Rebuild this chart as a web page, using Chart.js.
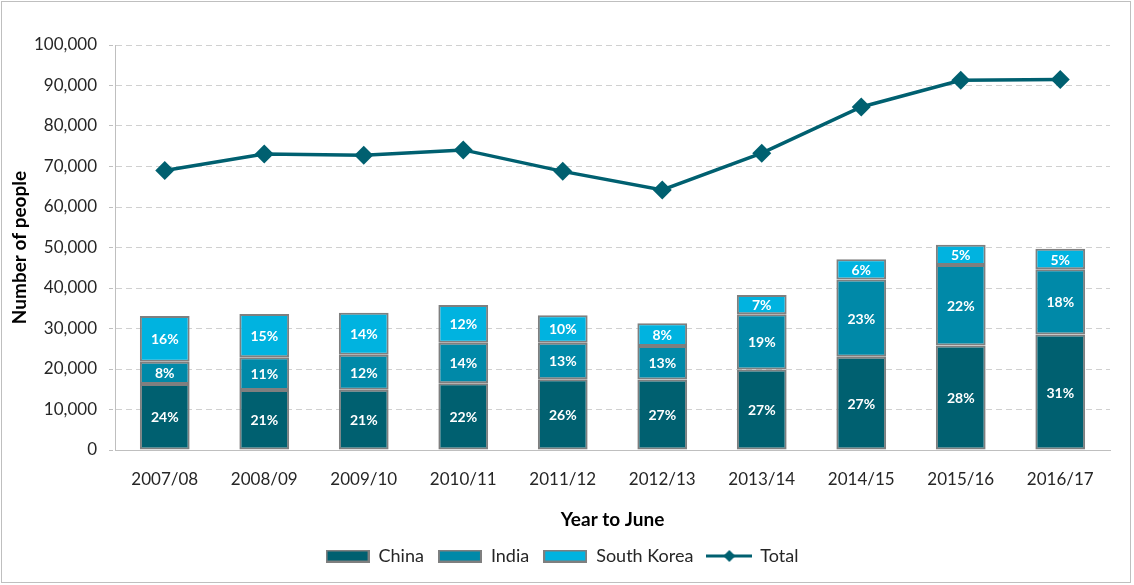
<!DOCTYPE html>
<html>
<head>
<meta charset="utf-8">
<script src="https://cdn.jsdelivr.net/npm/chart.js@4.4.1/dist/chart.umd.min.js"></script>
<style>
  html, body { margin: 0; padding: 0; background: #ffffff; }
  canvas { display: block; }
</style>
</head>
<body>
<canvas id="c" width="1134" height="585"></canvas>
<script>
const categories = ['2007/08','2008/09','2009/10','2010/11','2011/12','2012/13','2013/14','2014/15','2015/16','2016/17'];
const china      = [16300, 14800, 14900, 16500, 17500, 17400, 19900, 23000, 25800, 28500];
const india      = [5500, 8100, 8600, 10000, 9000, 8300, 13600, 19100, 19900, 16100];
const southKorea = [11300, 10700, 10400, 9300, 6800, 5600, 4800, 5000, 5000, 5100];
const total      = [69000, 73100, 72800, 74100, 68800, 64200, 73300, 84700, 91300, 91500];
const chinaPct   = ['24%','21%','21%','22%','26%','27%','27%','27%','28%','31%'];
const indiaPct   = ['8%','11%','12%','14%','13%','13%','19%','23%','22%','18%'];
const koreaPct   = ['16%','15%','14%','12%','10%','8%','7%','6%','5%','5%'];
const yTicks     = [0,10000,20000,30000,40000,50000,60000,70000,80000,90000,100000];

const C_CHINA = '#006070', C_INDIA = '#0089A8', C_KOREA = '#00B3E0', C_TOTAL = '#006070';
const FONT = 'Lato, "Open Sans", sans-serif';

function boxImg(color) {
  const cv = document.createElement('canvas');
  cv.width = 44; cv.height = 13;
  const x = cv.getContext('2d');
  x.fillStyle = '#7f7f7f'; x.fillRect(0, 0, 44, 13);
  x.fillStyle = color; x.fillRect(2, 2, 40, 9);
  return cv;
}
function lineImg(color) {
  const cv = document.createElement('canvas');
  cv.width = 46; cv.height = 14;
  const x = cv.getContext('2d');
  x.strokeStyle = color; x.lineWidth = 3;
  x.beginPath(); x.moveTo(0, 7); x.lineTo(46, 7); x.stroke();
  x.fillStyle = color;
  x.beginPath(); x.moveTo(23, 1); x.lineTo(29, 7); x.lineTo(23, 13); x.lineTo(17, 7); x.closePath(); x.fill();
  return cv;
}

const pctLabels = [chinaPct, indiaPct, koreaPct];

const labelPlugin = {
  id: 'pctLabels',
  afterDatasetsDraw(chart) {
    const ctx = chart.ctx;
    ctx.save();
    ctx.font = 'bold 14px ' + FONT;
    ctx.fillStyle = '#ffffff';
    ctx.textAlign = 'center';
    ctx.textBaseline = 'middle';
    for (let d = 0; d < 3; d++) {
      const meta = chart.getDatasetMeta(d);
      meta.data.forEach((bar, i) => {
        const p = bar.getProps(['x','y','base'], true);
        ctx.fillText(pctLabels[d][i], p.x, (p.y + p.base) / 2 + 1);
      });
    }
    ctx.restore();
  },
  afterLayout(chart) {
    if (chart.legend) { chart.legend.left += 7; chart.legend.right += 7; }
  },
  beforeDraw(chart) {
    const ctx = chart.ctx;
    ctx.save();
    ctx.fillStyle = '#ffffff';
    ctx.fillRect(0, 0, chart.width, chart.height);
    ctx.strokeStyle = '#bfbfbf';
    ctx.lineWidth = 1;
    ctx.strokeRect(1.5, 1.5, 1129, 581);
    ctx.restore();
  }
};

const barCommon = { borderColor: '#7f7f7f', borderWidth: 2, borderSkipped: false, barPercentage: 0.5, categoryPercentage: 1.0, stack: 'bars', order: 1 };

new Chart(document.getElementById('c'), {
  type: 'bar',
  data: {
    labels: categories,
    datasets: [
      Object.assign({ label: 'China', data: china, backgroundColor: C_CHINA }, barCommon),
      Object.assign({ label: 'India', data: india, backgroundColor: C_INDIA }, barCommon),
      Object.assign({ label: 'South Korea', data: southKorea, backgroundColor: C_KOREA }, barCommon),
      {
        type: 'line', label: 'Total', data: total, stack: 'total', order: 0,
        borderColor: C_TOTAL, borderWidth: 3.5, backgroundColor: C_TOTAL,
        pointStyle: 'rectRot', pointRadius: 9.5, pointHoverRadius: 9.5,
        pointBackgroundColor: C_TOTAL, pointBorderColor: C_TOTAL, pointBorderWidth: 0,
        tension: 0, fill: false
      }
    ]
  },
  options: {
    responsive: false,
    animation: false,
    devicePixelRatio: 1,
    layout: { padding: { top: 45, right: 24, left: 0, bottom: 10 } },
    plugins: {
      tooltip: { enabled: false },
      legend: {
        position: 'bottom',
        labels: {
          usePointStyle: true,
          pointStyleWidth: 44,
          padding: 14,
          color: '#262626',
          font: { family: FONT, size: 18 },
          generateLabels(chart) {
            return chart.data.datasets.map((ds, i) => ({
              text: ds.label,
              pointStyle: i === 3 ? lineImg(C_TOTAL) : boxImg(ds.backgroundColor),
              fillStyle: ds.backgroundColor,
              strokeStyle: ds.backgroundColor,
              lineWidth: 0,
              hidden: false,
              datasetIndex: i,
              fontColor: '#262626'
            }));
          }
        }
      }
    },
    scales: {
      x: {
        stacked: true,
        grid: { display: false, drawTicks: false },
        border: { display: true, color: '#bfbfbf', width: 1 },
        ticks: { color: '#262626', font: { family: FONT, size: 17 }, padding: 19, maxRotation: 0 },
        title: { display: true, text: 'Year to June', color: '#000000', font: { family: FONT, size: 19, weight: 'bold' }, padding: { top: 4, bottom: 2 } },
        afterFit(s) { s.height = 83; }
      },
      y: {
        stacked: true,
        min: 0, max: 100000,
        afterBuildTicks(s) { s.ticks = yTicks.map(v => ({ value: v })); },
        grid: { color: '#d0d0d0', lineWidth: 1, tickLength: 6, tickBorderDash: [4, 3], tickColor: '#bfbfbf' },
        border: { display: true, color: '#bfbfbf', width: 1, dash: [6, 4] },
        ticks: {
          color: '#262626', font: { family: FONT, size: 17 }, padding: 12,
          callback: v => v.toLocaleString('en-US')
        },
        title: { display: true, text: 'Number of people', color: '#000000', font: { family: FONT, size: 19, weight: 'bold' }, padding: { top: 8, bottom: 0 } },
        afterFit(s) { s.width = 115; }
      }
    }
  },
  plugins: [labelPlugin]
});
</script>
</body>
</html>
